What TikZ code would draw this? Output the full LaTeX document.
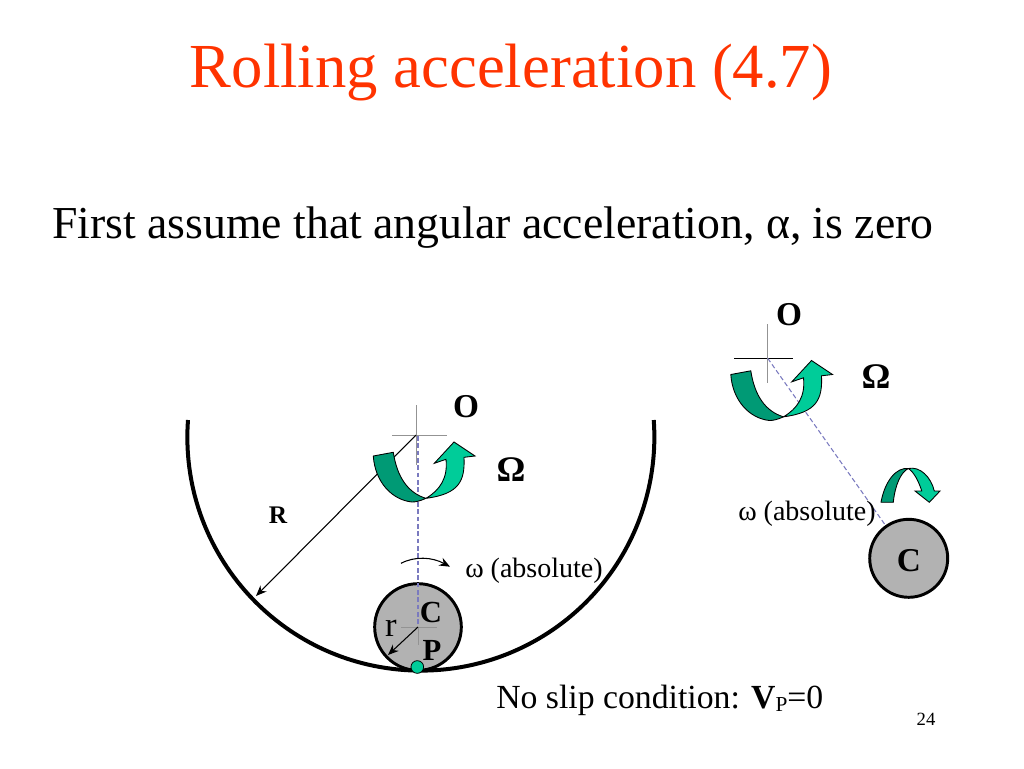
\documentclass[tikz,border=0pt]{standalone}
\usepackage{fontspec}
\setmainfont{Liberation Serif}
\newcommand{\fs}[1]{\fontsize{#1}{#1}\selectfont}
\definecolor{dkgreen}{HTML}{009A75}
\definecolor{ltgreen}{HTML}{00CC99}
\definecolor{dashblue}{HTML}{7A7ABF}
\definecolor{titlered}{HTML}{FF3300}
\definecolor{discgray}{HTML}{B2B2B2}
\usetikzlibrary{arrows.meta}
\tikzset{
  lbl/.style={inner sep=0pt,anchor=base west,text=black},
  ctr/.style={inner sep=0pt,anchor=base,text=black},
  bigO/.style={ctr,font=\fs{25}\bfseries},
  bigOm/.style={ctr,font=\fs{27}\bfseries},
  dashl/.style={draw=dashblue,dash pattern=on 3.5pt off 2pt,line width=0.8pt},
  grayl/.style={draw=gray!85,line width=0.6pt},
  disc/.style={circle,draw=black,fill=discgray,line width=2.2pt,inner sep=0pt},
  thin arrow/.style={draw=black,line width=0.8pt,-{Stealth[length=8pt,width=6.5pt]}},
  dkpiece/.style={draw=black,fill=dkgreen,line width=0.65pt,line join=round},
  ltpiece/.style={draw=black,fill=ltgreen,line width=0.65pt,line join=miter},
  twist/.pic={
    \path[ltpiece] (426,498.3) .. controls (440,490) and (448,478) .. (446,459.3)
      -- (434.3,463.3) -- (454,442) -- (475,456) -- (464,457.3)
      .. controls (465,480) and (460,494) .. cycle;
    \path[dkpiece] (373.3,456) -- (393.3,452.3)
      .. controls (397,477) and (408,493) .. (426,498.3)
      .. controls (420,501) and (416,502) .. (412,502)
      .. controls (392,500) and (375,482) .. cycle;
  }
}
\begin{document}
\begin{tikzpicture}[x=0.75pt,y=-0.75pt]
\useasboundingbox (0,0) rectangle (1024,768);
% headings
\node[inner sep=0pt,anchor=base,text=titlered,font=\fs{47}] (title) at (511,87) {Rolling acceleration (4.7)};
\node[lbl,font=\fs{34.3}] (intro) at (52,238) {First assume that angular acceleration, α, is zero};
% bowl
\draw[line width=3pt] (188,420) arc[start angle=184.2,end angle=-4.2,radius=233.5];
% left figure
\coordinate (O1) at (416,435);
\coordinate (C1) at (418,627);
\coordinate (Rend) at (256,596);
\coordinate (r1) at (388,655);
\node[disc,minimum size=65pt] (disc1) at (C1) {};
\draw[grayl] (392,435) -- (447,435);
\draw[grayl] (416,405) -- (416,465);
\draw[thin arrow] (O1) -- (Rend);
\draw[dashl] (418,436) -- (C1);
\draw[grayl] (401,627) -- (437,627);
\draw[grayl] (418,627) -- (418,645);
\draw[thin arrow] (C1) -- (r1);
\pic at (0,0) {twist};
\draw[thin arrow] (401,563.3) .. controls (415,556) and (432,557) .. (450,566.7);
\node[disc,draw=black,fill=ltgreen,line width=0.6pt,minimum size=9.5pt] (P1) at (417.3,667) {};
\node[bigO] (Olab1) at (466,417) {O};
\node[bigOm] (Om1) at (511,481) {Ω};
\node[ctr,font=\fs{19}\bfseries] (Rlab) at (278,523) {R};
\node[lbl,font=\fs{21}] (w1) at (465,577) {ω (absolute)};
\node[ctr,font=\fs{23}\bfseries] (Clab1) at (431,622) {C};
\node[ctr,font=\fs{26}] (rlab) at (391,636) {r};
\node[ctr,font=\fs{23}\bfseries] (Plab1) at (432,660) {P};
% right figure
\coordinate (O2) at (767.7,358.3);
\node[disc,minimum size=58.5pt] (disc2) at (908.7,558.3) {};
\draw[draw=black,line width=0.6pt] (734,358.3) -- (793.3,358.3);
\draw[grayl] (767.7,324) -- (767.7,383.3);
\draw[dashl] (O2) -- (disc2);
\pic at (357.5,-81.5) {twist};
\path[dkpiece] (881,502.3) .. controls (885,480) and (897,467) .. (908.3,468.5)
  .. controls (901,472) and (895,485) .. (893.3,502.3) -- cycle;
\path[ltpiece] (908.3,468.5) .. controls (920,466) and (931,477) .. (934.3,491)
  -- (940,491) -- (929.3,502.3) -- (915,491) -- (921.7,491)
  .. controls (919,482) and (914,472) .. cycle;
\node[bigO] (Olab2) at (789,325) {O};
\node[bigOm] (Om2) at (876,388) {Ω};
\node[lbl,font=\fs{21}] (w2) at (738,520) {ω (absolute)};
\node[ctr,font=\fs{25}\bfseries] (Clab2) at (909,571) {C};
% footer
\node[lbl,font=\fs{25.3}] (noslip) at (496,708) {No slip condition: \textbf{V}\raisebox{-2.5pt}{\fs{16}P}=0};
\node[ctr,font=\fs{14}] (page) at (926,725) {24};
\end{tikzpicture}
\end{document}
